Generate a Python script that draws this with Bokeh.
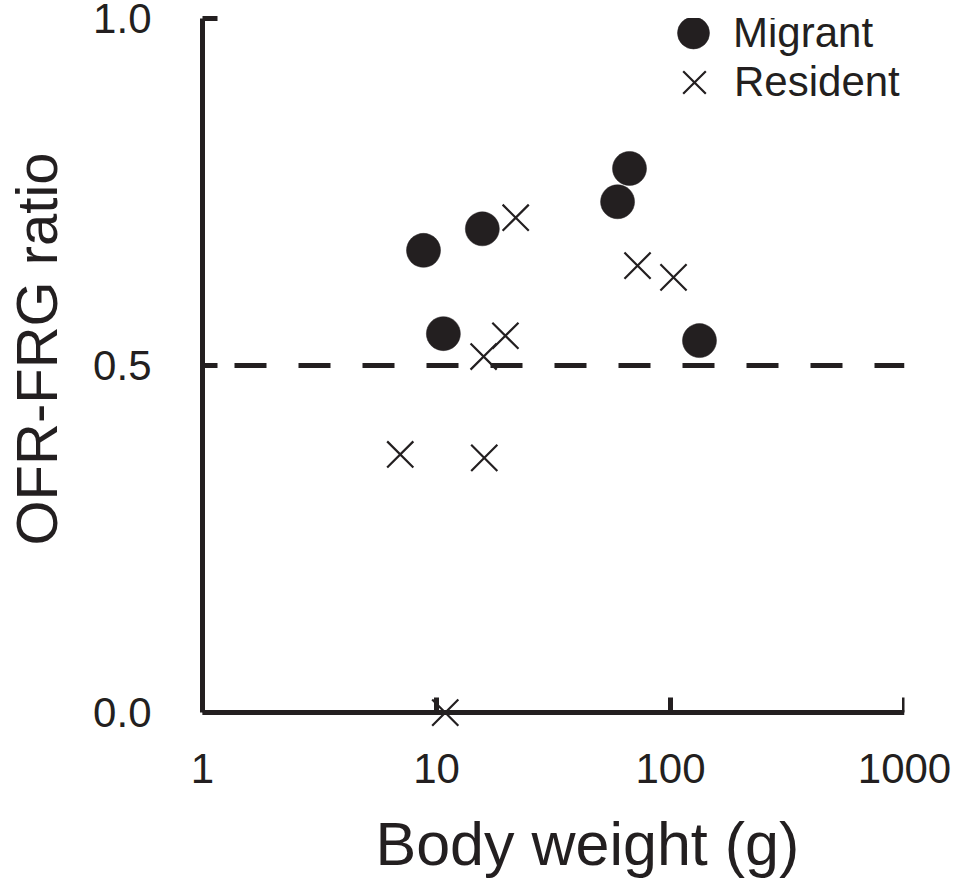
from bokeh.plotting import figure
from bokeh.models import (Range1d, FixedTicker, NumeralTickFormatter, Span,
                          Legend, LegendItem, LogAxis, Title,
                          CustomJSTickFormatter)
from bokeh.embed import file_html
from bokeh.resources import INLINE

# ---- data ----
migrant_weight = [8.8, 10.7, 15.7, 59.4, 66.8, 133]
migrant_ratio = [0.666, 0.546, 0.697, 0.736, 0.784, 0.536]
resident_weight = [7.0, 16.0, 15.9, 19.7, 21.8, 72.3, 103, 10.9]
resident_ratio = [0.372, 0.367, 0.513, 0.543, 0.713, 0.644, 0.627, 0.0]
x_ticks = [1, 10, 100, 1000]
y_ticks = [0.0, 0.5, 1.0]
threshold = 0.5
x_label = "Body weight (g)"
y_label = "OFR-FRG ratio"

INK = "#231f20"
FONT = "Liberation Sans"

p = figure(width=954, height=881, x_axis_type="log",
           x_range=Range1d(1, 1000), y_range=Range1d(-0.03, 1.0),
           output_backend="svg", toolbar_location=None,
           min_border_left=202, min_border_right=50,
           min_border_top=18, min_border_bottom=148)
p.grid.visible = False
p.outline_line_color = None
p.background_fill_color = "white"
p.border_fill_color = "white"


def style_axis(ax):
    ax.axis_line_color = INK
    ax.axis_line_width = 5
    ax.major_tick_line_color = INK
    ax.major_tick_line_width = 5
    ax.major_tick_in = 15
    ax.major_tick_out = 0
    ax.minor_tick_in = 0
    ax.minor_tick_out = 0
    ax.minor_tick_line_color = None
    ax.major_label_text_font = FONT
    ax.major_label_text_font_size = "42px"
    ax.major_label_text_color = INK


# x axis line + inward ticks drawn at y = 0
xa = p.xaxis[0]
style_axis(xa)
xa.ticker = FixedTicker(ticks=x_ticks, minor_ticks=[])
xa.formatter = CustomJSTickFormatter(code="return ''")
xa.major_label_text_font_size = "1px"
xa.major_label_standoff = 0
xa.fixed_location = 0

# x tick labels (no line, no ticks)
xb = LogAxis(ticker=FixedTicker(ticks=x_ticks, minor_ticks=[]),
             formatter=NumeralTickFormatter(format="0"))
style_axis(xb)
xb.axis_line_color = None
xb.major_tick_line_color = None
xb.major_tick_in = 0
xb.major_label_standoff = 20
xb.axis_label = " "
xb.axis_label_text_font_size = "1px"
xb.axis_label_standoff = 18
p.add_layout(xb, "below")
p.add_layout(Title(text=x_label, align="left", offset=173, standoff=0,
                   vertical_align="bottom", text_font=FONT,
                   text_font_size="61px", text_font_style="normal",
                   text_color=INK), "below")

ya = p.yaxis[0]
style_axis(ya)
ya.ticker = FixedTicker(ticks=y_ticks, minor_ticks=[])
ya.formatter = NumeralTickFormatter(format="0.0")
ya.bounds = (0, 1)
ya.major_label_standoff = 51
ya.axis_label = " "
ya.axis_label_text_font_size = "1px"
ya.axis_label_standoff = 17
p.add_layout(Title(text=y_label, align="left", offset=188, standoff=0,
                   vertical_align="bottom", text_font=FONT,
                   text_font_size="58px", text_font_style="normal",
                   text_color=INK), "left")

p.add_layout(Span(location=threshold, dimension="width", line_color=INK,
                  line_width=5, line_dash="32 32", line_dash_offset=32))

r_m = p.scatter(migrant_weight, migrant_ratio, marker="circle", size=34,
                fill_color=INK, line_color=INK, line_width=0.5)
r_r = p.scatter(resident_weight, resident_ratio, marker="x", size=37,
                line_color=INK, line_width=2.2)

common = dict(padding=0, margin=0, border_line_alpha=0,
              background_fill_alpha=0, label_text_font=FONT,
              label_text_font_size="42px", label_text_color=INK,
              label_standoff=0, glyph_width=80)
p.add_layout(Legend(items=[LegendItem(label="Migrant", renderers=[r_m])],
                    location=(451, 659), glyph_height=83, **common))
p.add_layout(Legend(items=[LegendItem(label="Resident", renderers=[r_r])],
                    location=(452, 605), glyph_height=92, **common))

open("out.html", "w").write(file_html(p, INLINE))
